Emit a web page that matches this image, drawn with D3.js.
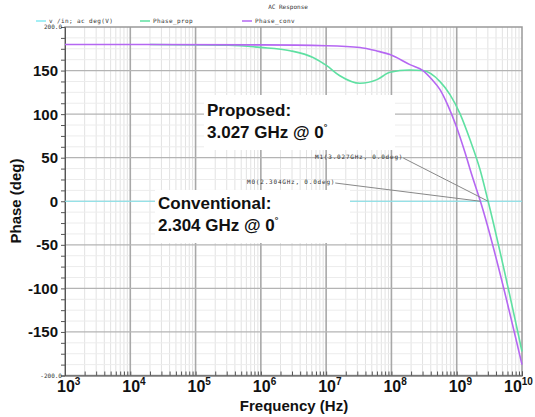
<!DOCTYPE html>
<html lang="en">
<head>
<meta charset="utf-8">
<title>AC Response</title>
<script src="https://d3js.org/d3.v7.min.js"></script>
<style>
  body { margin: 0; background: #fff; }
  svg { display: block; font-family: "Liberation Sans", Arial, sans-serif; }
  .big { font-weight: bold; fill: #111; }
  .tiny { font-size: 6px; fill: #333; font-family: "DejaVu Sans Mono", monospace; }
</style>
</head>
<body>
<script>
// series (Hz, deg)
const convFreq  = [1e3, 1e6, 1e7, 3.3e7, 6e7, 9.5e7, 1.92e8, 3.04e8, 4.18e8, 5.55e8, 7.35e8, 9.75e8, 1.34e9, 1.715e9, 2.304e9, 1e10];
const convPhase = [180, 179.5, 178.5, 176.5, 172.5, 168.3, 156.8, 150, 139.7, 128.2, 109.8, 86.9, 55.9, 29.5, 0, -187.5];
const propFreq  = [2e4, 3.2e5, 9.8e5, 2.8e6, 6.3e6, 1.02e7, 1.62e7, 3.3e7, 6e7, 9.5e7, 1.9e8, 3.04e8, 5.55e8, 7.89e8, 1.122e9, 1.596e9, 2.274e9, 3.027e9, 1e10];
const propPhase = [180, 179, 176.6, 172.8, 165, 155.6, 144, 135.4, 139.6, 148, 150.7, 150, 137.3, 122.4, 100.6, 70.8, 36.4, 0, -172.5];
const vinFreq   = [1e3, 1e10];
const vinPhase  = [0, 0];
const yTicks = [150, 100, 50, 0, -50, -100, -150];
const xExps  = [3, 4, 5, 6, 7, 8, 9, 10];
const legendNames = ["v /in; ac deg(V)", "Phase_prop", "Phase_conv"];
const markers = [
  {name: "M1(3.027GHz, 0.0deg)", f: 3.027e9, p: 0},
  {name: "M0(2.304GHz, 0.0deg)", f: 2.304e9, p: 0}
];

const width = 535, height = 417;
const mLeft = 65, mRight = 522, mTop = 27, mBottom = 375.5;

const x = d3.scaleLog().domain([1e3, 1e10]).range([mLeft, mRight]);
const y = d3.scaleLinear().domain([-200, 200]).range([mBottom, mTop]);

const svg = d3.select("body").append("svg")
  .attr("width", width).attr("height", height);

// minor vertical grid
const minorF = [];
for (let e = 3; e < 10; e++) for (let k = 2; k <= 9; k++) minorF.push(k * Math.pow(10, e));
svg.append("g").selectAll("line").data(minorF).enter().append("line")
  .attr("x1", d => x(d)).attr("x2", d => x(d))
  .attr("y1", mTop).attr("y2", mBottom)
  .attr("stroke", "#e2e2e2").attr("stroke-width", 1);

// minor horizontal grid
const minorY = d3.range(-200, 201, 12.5).filter(v => v % 50 !== 0);
svg.append("g").selectAll("line").data(minorY).enter().append("line")
  .attr("x1", mLeft).attr("x2", mRight)
  .attr("y1", d => y(d)).attr("y2", d => y(d))
  .attr("stroke", "#ececec");

// major grid
svg.append("g").selectAll("line").data(xExps.slice(1, -1)).enter().append("line")
  .attr("x1", d => x(Math.pow(10, d))).attr("x2", d => x(Math.pow(10, d)))
  .attr("y1", mTop).attr("y2", mBottom)
  .attr("stroke", "#a8a8a8").attr("stroke-width", 1.6);
svg.append("g").selectAll("line").data(yTicks).enter().append("line")
  .attr("x1", mLeft).attr("x2", mRight)
  .attr("y1", d => y(d)).attr("y2", d => y(d))
  .attr("stroke", "#b4b4b4").attr("stroke-width", 1.2);

// frame
svg.append("rect").attr("x", mLeft).attr("y", mTop)
  .attr("width", mRight - mLeft).attr("height", mBottom - mTop)
  .attr("fill", "none").attr("stroke", "#999").attr("stroke-width", 1.5);

// axes with small ticks
const leftAxis = d3.axisLeft(y).tickValues(d3.range(-200, 201, 12.5)).tickSize(4).tickFormat("");
svg.append("g").attr("transform", `translate(${mLeft},0)`).call(leftAxis)
  .call(g => g.selectAll("line,path").attr("stroke", "#555"));
const bottomAxis = d3.axisBottom(x).tickValues(minorF.concat(xExps.map(e => Math.pow(10, e)))).tickSize(-4).tickFormat("");
svg.append("g").attr("transform", `translate(0,${mBottom})`).call(bottomAxis)
  .call(g => g.selectAll("line,path").attr("stroke", "#555"));

// curves
const line = d3.line().x(d => x(d[0])).y(d => y(d[1])).curve(d3.curveMonotoneX);
const series = [
  {f: vinFreq, p: vinPhase, c: "#86eaf2", w: 1.2},
  {f: propFreq, p: propPhase, c: "#5fe0a2", w: 1.6},
  {f: convFreq, p: convPhase, c: "#b567f2", w: 1.6}
];
series.forEach(s => {
  svg.append("path").datum(d3.zip(s.f, s.p))
    .attr("d", line).attr("fill", "none")
    .attr("stroke", s.c).attr("stroke-width", s.w);
});

// title and legend
svg.append("text").attr("class", "tiny").attr("x", 288).attr("y", 9)
  .attr("text-anchor", "middle").text("AC Response");
const legX = [36, 140, 242];
legendNames.forEach((n, i) => {
  svg.append("line").attr("x1", legX[i]).attr("x2", legX[i] + 10)
    .attr("y1", 21).attr("y2", 21).attr("stroke", series[i].c).attr("stroke-width", 1.5);
  svg.append("text").attr("class", "tiny").attr("x", legX[i] + 13).attr("y", 23)
    .attr("letter-spacing", 0.4).text(n);
});

// y labels
svg.append("g").selectAll("text").data(yTicks).enter().append("text")
  .attr("class", "big").attr("font-size", 15)
  .attr("x", mLeft - 7).attr("y", d => y(d) + 5.5)
  .attr("text-anchor", "end").text(d => d);
[200, -200].forEach(v => {
  svg.append("text").attr("class", "tiny").attr("x", mLeft - 3).attr("y", y(v) + 2)
    .attr("text-anchor", "end").text(v.toFixed(1));
});

// x labels
svg.append("g").selectAll("text").data(xExps).enter().append("text")
  .attr("class", "big").attr("font-size", 16)
  .attr("x", d => x(Math.pow(10, d)) - (d === 10 ? 18 : 8)).attr("y", 392)
  .each(function(d) {
    const t = d3.select(this);
    t.append("tspan").text("10");
    t.append("tspan").attr("font-size", 10).attr("dy", -7).text(d);
  });

svg.append("text").attr("class", "big").attr("font-size", 15)
  .attr("x", 294).attr("y", 411).attr("text-anchor", "middle").text("Frequency (Hz)");
svg.append("text").attr("class", "big").attr("font-size", 15)
  .attr("transform", "translate(21,201) rotate(-90)")
  .attr("text-anchor", "middle").text("Phase (deg)");

// marker labels and leader lines
const mLab = [{x: 315, y: 159}, {x: 247, y: 184}];
markers.forEach((m, i) => {
  const t = svg.append("text").attr("class", "tiny").attr("x", mLab[i].x).attr("y", mLab[i].y)
    .attr("letter-spacing", 0.8).text(m.name);
  const w = t.node().getComputedTextLength();
  svg.append("line").attr("x1", mLab[i].x + w).attr("y1", mLab[i].y - 1)
    .attr("x2", x(m.f)).attr("y2", y(m.p))
    .attr("stroke", "#888").attr("stroke-width", 1);
});

// annotation boxes
const notes = [
  {box: [204, 95, 191, 55], tx: 207, lines: ["Proposed:", "3.027 GHz @ 0"], ty: [116, 138]},
  {box: [155, 190, 195, 53], tx: 158, lines: ["Conventional:", "2.304 GHz @ 0"], ty: [209, 231]}
];
notes.forEach(n => {
  svg.append("rect").attr("x", n.box[0]).attr("y", n.box[1])
    .attr("width", n.box[2]).attr("height", n.box[3]).attr("fill", "#fff");
  n.lines.forEach((l, i) => {
    const t = svg.append("text").attr("class", "big").attr("font-size", 17)
      .attr("x", n.tx).attr("y", n.ty[i]).text(l);
    if (i === 1) t.append("tspan").attr("font-size", 9).attr("dy", -8).text("°");
  });
});
</script>
</body>
</html>
